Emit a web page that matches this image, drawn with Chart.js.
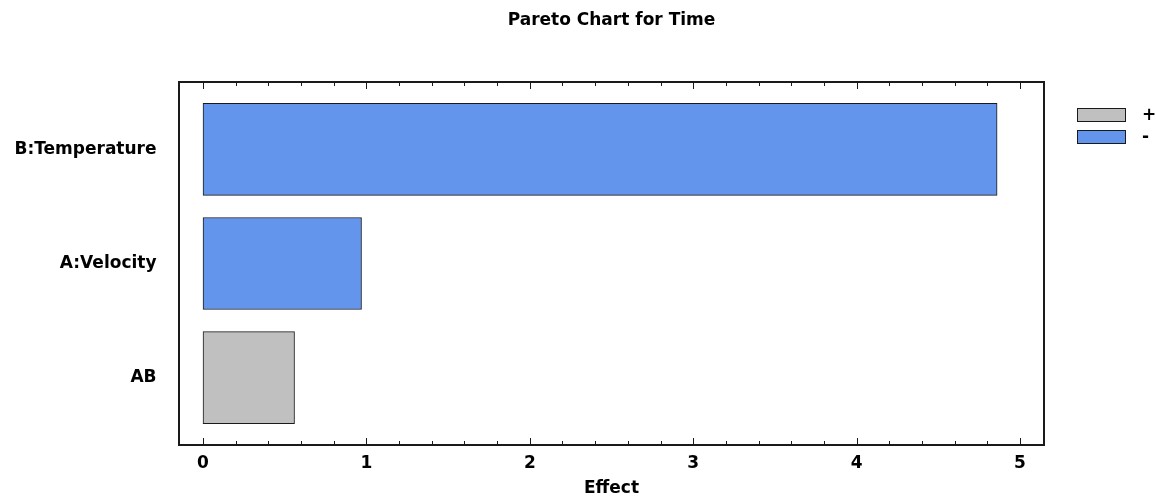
<!DOCTYPE html>
<html>
<head>
<meta charset="utf-8">
<script src="https://cdn.jsdelivr.net/npm/chart.js@4.4.0/dist/chart.umd.min.js"></script>
<style>
  html, body { margin: 0; padding: 0; background: #fff; }
  #wrap { width: 1156px; height: 497px; }
</style>
</head>
<body>
<div id="wrap"><canvas id="paretoChart"></canvas></div>
<script>
// effects, standardized size and sign
const effects = ['B:Temperature', 'A:Velocity', 'AB'];
const effectSizes = [4.86, 0.97, 0.56];
const effectSigns = ['-', '-', '+'];
const signLabels = ['+', '-'];
const signColors = ['#c0c0c0', '#6495ed'];
const xTicks = [0, 1, 2, 3, 4, 5];

const FONT = "'DejaVu Sans', Arial, sans-serif";
const INK = '#1a1a1a';

const datasets = signLabels.map((s, k) => ({
    label: s,
    data: effects
        .map((name, i) => ({ x: effectSizes[i], y: i, sign: effectSigns[i] }))
        .filter(p => p.sign === s),
    backgroundColor: signColors[k],
    borderColor: INK,
    borderWidth: 1,
    borderSkipped: false,
    barThickness: 92,
    grouped: false
}));

// plot frame plus inward major/minor ticks on top and bottom edges
const frameTicks = {
    id: 'frameTicks',
    afterDraw(chart) {
        const { ctx, chartArea: a, scales: { x } } = chart;
        ctx.save();
        ctx.strokeStyle = INK;
        ctx.lineWidth = 1;
        for (let i = 0; i < xTicks.length; i++) {
            const v0 = xTicks[i];
            const steps = i < xTicks.length - 1 ? 5 : 1;
            for (let j = 0; j < steps; j++) {
                const v = v0 + j * 0.2;
                const px = Math.round(x.getPixelForValue(v)) + 0.5;
                const len = j === 0 ? 7 : 4;
                ctx.beginPath();
                ctx.moveTo(px, a.top);
                ctx.lineTo(px, a.top + len);
                ctx.moveTo(px, a.bottom);
                ctx.lineTo(px, a.bottom - len);
                ctx.stroke();
            }
        }
        ctx.lineWidth = 2;
        ctx.strokeRect(a.left, a.top, a.right - a.left, a.bottom - a.top);
        ctx.restore();
    }
};

// sign legend to the right of the plot
const signLegend = {
    id: 'signLegend',
    afterDraw(chart) {
        const { ctx, chartArea: a } = chart;
        ctx.save();
        ctx.font = 'bold 17px ' + FONT;
        ctx.textBaseline = 'middle';
        ctx.textAlign = 'left';
        chart.data.datasets.forEach((ds, k) => {
            const bx = a.right + 33;
            const by = a.top + 26 + k * 22;
            ctx.fillStyle = ds.backgroundColor;
            ctx.fillRect(bx, by, 49, 14);
            ctx.strokeStyle = INK;
            ctx.lineWidth = 1;
            ctx.strokeRect(bx + 0.5, by + 0.5, 48, 13);
            ctx.fillStyle = '#000';
            ctx.fillText(ds.label, bx + 65, by + 8);
        });
        ctx.restore();
    }
};

new Chart(document.getElementById('paretoChart'), {
    type: 'bar',
    data: { datasets },
    plugins: [frameTicks, signLegend],
    options: {
        indexAxis: 'y',
        responsive: true,
        maintainAspectRatio: false,
        animation: false,
        layout: { padding: { left: 0, right: 112, top: 0, bottom: 0 } },
        plugins: {
            legend: { display: false },
            tooltip: { enabled: false },
            title: {
                display: true,
                text: 'Pareto Chart for Time',
                fullSize: false,
                color: '#000',
                font: { family: FONT, size: 17, weight: 'bold', lineHeight: 1.2 },
                padding: { top: 10, bottom: 51.6 }
            }
        },
        scales: {
            x: {
                type: 'linear',
                position: 'bottom',
                min: -0.147,
                max: 5.147,
                offset: false,
                afterBuildTicks: s => { s.ticks = xTicks.map(v => ({ value: v })); },
                afterFit: s => { s.height = 52; },
                grid: { display: false, drawTicks: false },
                border: { display: false },
                ticks: {
                    color: '#000',
                    padding: 8,
                    font: { family: FONT, size: 17, weight: 'bold', lineHeight: 1.2 }
                },
                title: {
                    display: true,
                    text: 'Effect',
                    color: '#000',
                    padding: { top: 0, bottom: 0 },
                    font: { family: FONT, size: 17, weight: 'bold', lineHeight: 1 }
                }
            },
            y: {
                type: 'linear',
                reverse: true,
                min: -0.59,
                max: 2.59,
                offset: false,
                bounds: 'data',
                grace: 0,
                afterBuildTicks: s => { s.ticks = effects.map((_, i) => ({ value: i })); },
                afterFit: s => { s.width = 179; },
                grid: { display: false, drawTicks: false, offset: false },
                border: { display: false },
                ticks: {
                    color: '#000',
                    padding: 22.5,
                    font: { family: FONT, size: 17, weight: 'bold' },
                    callback: v => effects[v]
                }
            }
        }
    }
});
</script>
</body>
</html>
